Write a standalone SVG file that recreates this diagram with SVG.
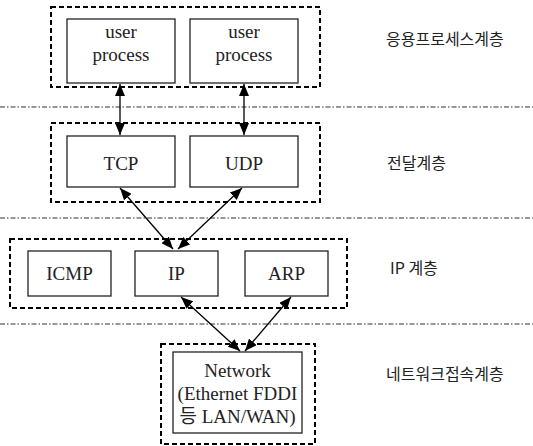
<svg xmlns="http://www.w3.org/2000/svg" width="533" height="446" viewBox="0 0 533 446">
<style>
.grp{fill:none;stroke:#000;stroke-width:2;stroke-dasharray:5 3}
.box{fill:#fff;stroke:#222;stroke-width:1.3}
.sep{fill:none;stroke:#333;stroke-width:1.2;stroke-dasharray:5 2 1.5 2}
.t{font-family:'Liberation Serif','DejaVu Serif',serif;font-size:19px;fill:#222;text-anchor:middle}
.tk{font-family:'Liberation Serif','Noto Sans CJK KR',serif;font-size:19px;fill:#222;text-anchor:middle}
.k{font-family:'Noto Sans CJK KR',sans-serif;font-size:16px;fill:#222}
.c{fill:none;stroke:#000;stroke-width:1.3}
</style>
<defs>
<marker id="ah" viewBox="0 0 12 10" refX="12" refY="5" markerWidth="12" markerHeight="10" markerUnits="userSpaceOnUse" orient="auto-start-reverse">
<path d="M0,0 L12,5 L0,10 Z" fill="#000"/>
</marker>
</defs>
<rect width="533" height="446" fill="#fff"/>
<g id="separators">
<line class="sep" x1="0" y1="107" x2="533" y2="107"/>
<line class="sep" x1="0" y1="218" x2="533" y2="218"/>
<line class="sep" x1="0" y1="324" x2="533" y2="324"/>
</g>
<g id="layer-app">
<rect class="grp" x="51" y="7" width="269" height="80"/>
</g>
<g id="layer-transport">
<rect class="grp" x="51" y="123" width="269" height="79"/>
</g>
<g id="layer-ip">
<rect class="grp" x="10" y="239" width="337" height="69"/>
</g>
<g id="layer-net">
<rect class="grp" x="161" y="344" width="154" height="100"/>
</g>
<g id="user1"><rect class="box" x="67" y="19" width="108" height="64"/><text class="t" x="121" y="38">user</text><text class="t" x="121" y="61">process</text></g>
<g id="user2"><rect class="box" x="190" y="19" width="108" height="64"/><text class="t" x="244" y="38">user</text><text class="t" x="244" y="61">process</text></g>
<g id="tcp"><rect class="box" x="67" y="136" width="108" height="51"/><text class="t" x="121" y="170">TCP</text></g>
<g id="udp"><rect class="box" x="190" y="136" width="108" height="51"/><text class="t" x="244" y="170">UDP</text></g>
<g id="icmp"><rect class="box" x="28" y="251" width="83" height="45"/><text class="t" x="69.5" y="280">ICMP</text></g>
<g id="ip"><rect class="box" x="135" y="251" width="83" height="45"/><text class="t" x="176.5" y="280">IP</text></g>
<g id="arp"><rect class="box" x="245" y="251" width="83" height="45"/><text class="t" x="286.5" y="280">ARP</text></g>
<g id="network"><rect class="box" x="173" y="352" width="129" height="81"/><text class="t" x="237.5" y="377">Network</text><text class="t" x="237.5" y="400">(Ethernet FDDI</text><text class="tk" x="237.5" y="423">등 LAN/WAN)</text></g>
<g id="labels">
<text class="k" x="386" y="45">응용프로세스계층</text>
<text class="k" x="387" y="169">전달계층</text>
<text class="k" x="390" y="274">IP 계층</text>
<text class="k" x="386" y="380">네트워크접속계층</text>
</g>
<g id="connectors">
<line class="c" x1="120" y1="84" x2="120" y2="135" marker-start="url(#ah)" marker-end="url(#ah)"/>
<line class="c" x1="244" y1="84" x2="244" y2="135" marker-start="url(#ah)" marker-end="url(#ah)"/>
<line class="c" x1="120" y1="188" x2="173" y2="249" marker-start="url(#ah)" marker-end="url(#ah)"/>
<line class="c" x1="242" y1="188" x2="178" y2="249" marker-start="url(#ah)" marker-end="url(#ah)"/>
<line class="c" x1="181" y1="297" x2="240" y2="351" marker-start="url(#ah)" marker-end="url(#ah)"/>
<line class="c" x1="291" y1="297" x2="245" y2="351" marker-start="url(#ah)" marker-end="url(#ah)"/>
</g>
</svg>
